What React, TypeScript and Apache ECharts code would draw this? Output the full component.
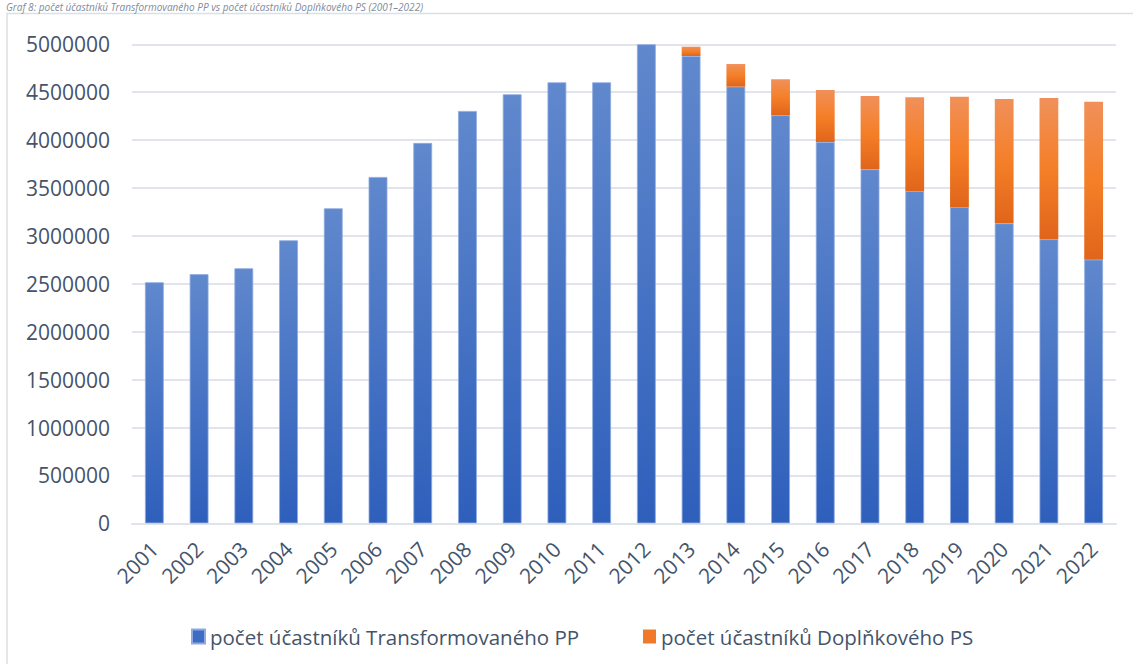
import React, { useEffect, useRef } from "react";
import * as echarts from "echarts";

const years = ["2001","2002","2003","2004","2005","2006","2007","2008","2009","2010","2011","2012","2013","2014","2015","2016","2017","2018","2019","2020","2021","2022"];
const transformovanePP = [2516000, 2600000, 2662000, 2954000, 3288000, 3615000, 3970000, 4304000, 4478000, 4603000, 4603000, 5000000, 4878000, 4558000, 4259000, 3980000, 3695000, 3469000, 3302000, 3131000, 2965000, 2752000];
const doplnkovePS = [0, 0, 0, 0, 0, 0, 0, 0, 0, 0, 0, 0, 97000, 236000, 376000, 543000, 765000, 978000, 1151000, 1298000, 1474000, 1649000];
const seriesNames = ["počet účastníků Transformovaného PP", "počet účastníků Doplňkového PS"];
const titleText = "Graf 8: počet účastníků Transformovaného PP vs počet účastníků Doplňkového PS (2001–2022)";

const FONT = "'Open Sans', 'Noto Sans', sans-serif";
const TEXT = "#44546a";

export default function App() {
  const ref = useRef<HTMLDivElement>(null);
  useEffect(() => {
    if (!ref.current) return;
    const chart = echarts.init(ref.current, null, { renderer: "svg" });
    const blue = new echarts.graphic.LinearGradient(0, 0, 0, 1, [
      { offset: 0, color: "#6088cd" },
      { offset: 1, color: "#2e5fbb" },
    ]);
    const orange = new echarts.graphic.LinearGradient(0, 0, 0, 1, [
      { offset: 0, color: "#f0905a" },
      { offset: 0.5, color: "#f57f28" },
      { offset: 1, color: "#e0651a" },
    ]);
    chart.setOption({
      animation: false,
      backgroundColor: "#ffffff",
      textStyle: { fontFamily: FONT },
      graphic: [
        {
          type: "rect",
          shape: { x: 7, y: 13.5, width: 1300, height: 800 },
          style: { fill: "none", stroke: "#dcdfe4", lineWidth: 1.5 },
          silent: true,
        },
        {
          type: "text",
          x: 6,
          y: 2,
          style: {
            text: titleText,
            font: `italic 10px ${FONT}`,
            fill: "#7f8a9c",
            verticalAlign: "top",
          },
          silent: true,
        },
      ],
      grid: { left: 132, right: 17, top: 44.3, bottom: 140.7, containLabel: false },
      legend: [
        {
          left: 186,
          top: 621,
          itemWidth: 13,
          itemHeight: 14,
          icon: "rect",
          textStyle: { fontSize: 20.5, color: TEXT, fontFamily: FONT },
          data: [{ name: seriesNames[0], itemStyle: { color: "#3e6cc4" } }],
        },
        {
          left: 638,
          top: 621,
          itemWidth: 13,
          itemHeight: 14,
          icon: "rect",
          textStyle: { fontSize: 20.5, color: TEXT, fontFamily: FONT },
          data: [{ name: seriesNames[1], itemStyle: { color: "#f07a2a" } }],
        },
      ],
      xAxis: {
        type: "category",
        data: years,
        axisLine: { show: true, lineStyle: { color: "#dfe3ea", width: 2 } },
        axisTick: { show: false },
        axisLabel: { rotate: 45, fontSize: 21, color: TEXT, margin: 22, fontFamily: FONT, interval: 0 },
      },
      yAxis: {
        type: "value",
        min: 0,
        max: 5000000,
        interval: 500000,
        axisLine: { show: false },
        axisTick: { show: false },
        splitLine: { lineStyle: { color: "#e1e4eb", width: 2 } },
        axisLabel: {
          fontSize: 21,
          color: TEXT,
          margin: 22,
          fontFamily: FONT,
          formatter: (v: number) => String(v),
        },
      },
      series: [
        {
          name: seriesNames[0],
          type: "bar",
          stack: "total",
          barWidth: "42%",
          data: transformovanePP,
          itemStyle: { color: blue, borderColor: "#8eaae0", borderWidth: 0.8 },
        },
        {
          name: seriesNames[1],
          type: "bar",
          stack: "total",
          barWidth: "42%",
          data: doplnkovePS,
          itemStyle: { color: orange, borderWidth: 0 },
        },
      ],
    });
    return () => chart.dispose();
  }, []);
  return (
    <div
      ref={ref}
      style={{ position: "absolute", left: 0, top: 0, width: 1133, height: 664, background: "#fff" }}
    />
  );
}
